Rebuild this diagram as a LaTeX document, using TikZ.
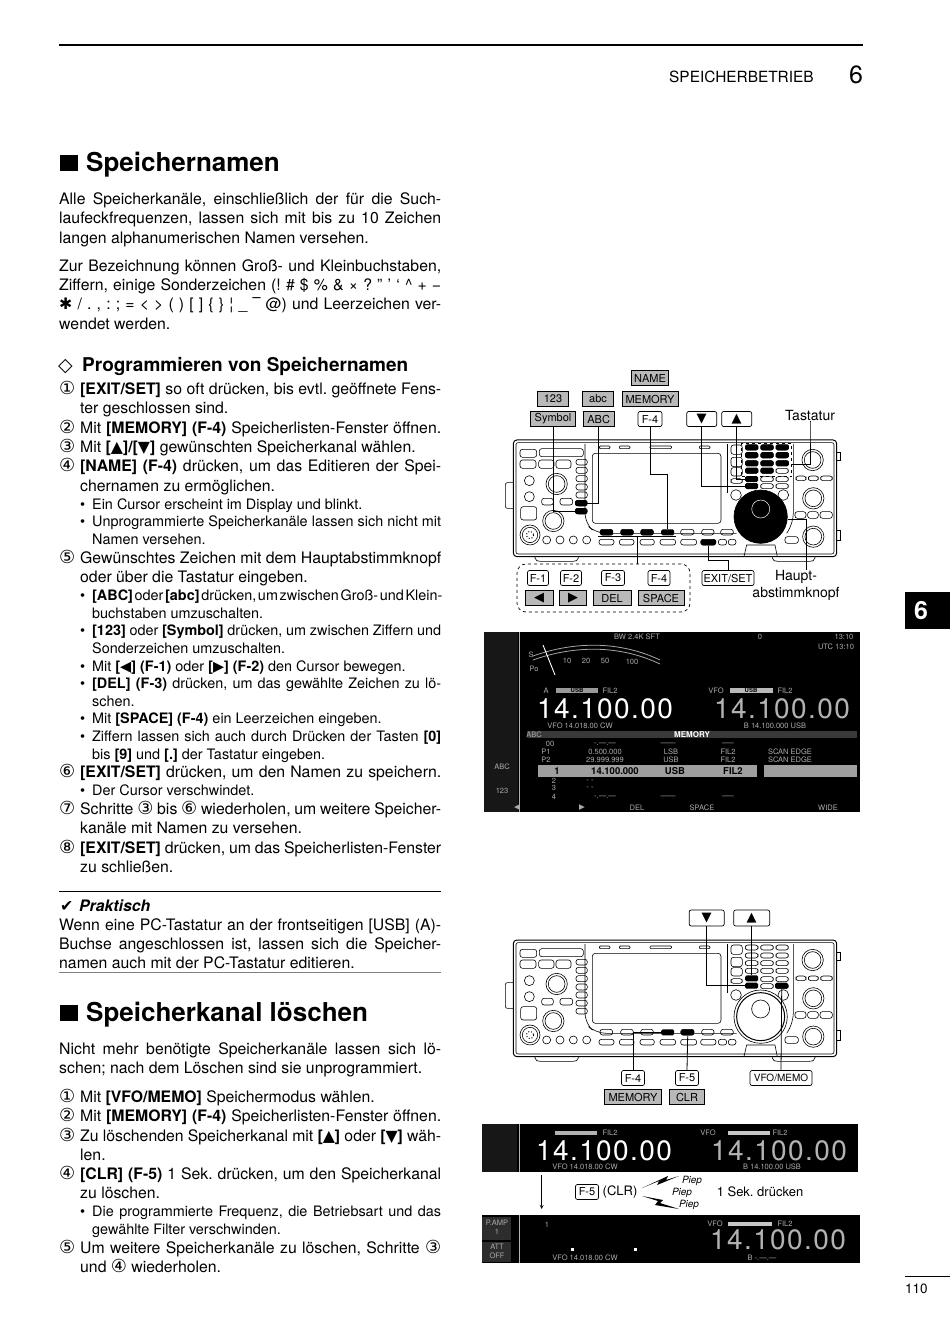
\documentclass[tikz,border=0pt]{standalone}
\usepackage{fontspec}
\setmainfont{TeX Gyre Heros}
\newfontfamily\symf{DejaVu Sans}
\frenchspacing
\newcommand{\bodyf}{\fontsize{15.8}{18}\selectfont}
\newcommand{\smallf}{\fontsize{14.4}{16}\selectfont}
\newcommand{\labf}{\fontsize{11}{12}\selectfont}
\newcommand{\fitsp}{\spaceskip=.278em plus .6em minus .16em\relax}
\newcommand{\up}{{\symf\char"25B2}}
\newcommand{\dn}{{\symf\char"25BC}}
\newcommand{\lf}{{\symf\char"25C0}}
\newcommand{\rt}{{\symf\char"25B6}}
\newcommand{\bigarr}[1]{{\fontsize{13}{13}\selectfont #1}}
\newcommand{\cn}[1]{{\symf\fontsize{18}{16}\selectfont\char\numexpr"245F+#1\relax}}
% text lines: j = justified up to the right margin
\newcommand{\jl}[3]{\node[body] (l#2) at (#1,#2) {\makebox[\dimexpr441pt-#1pt\relax][s]{\fitsp #3}};}
\newcommand{\tl}[3]{\node[body] (l#2) at (#1,#2) {#3};}
\newcommand{\nj}[3]{\node[body] (l#1) at (59,#1) {\makebox[382pt][s]{\fitsp\makebox[21pt][l]{\cn{#2}}#3}};}
\newcommand{\nl}[3]{\node[body] (l#1) at (59,#1) {\makebox[21pt][l]{\cn{#2}}#3};}
\newcommand{\bj}[2]{\node[small] (l#1) at (80,#1) {\makebox[361pt][s]{\fitsp\makebox[12pt][l]{•}#2}};}
\newcommand{\bl}[2]{\node[small] (l#1) at (80,#1) {\makebox[12pt][l]{•}#2};}
\newcommand{\cl}[2]{\node[small] (l#1) at (92,#1) {#2};}
\tikzset{
  body/.style={anchor=base west,inner sep=0pt,yshift=-1pt,font=\bodyf},
  small/.style={anchor=base west,inner sep=0pt,yshift=-1pt,font=\smallf},
  head/.style={anchor=base west,inner sep=0pt,font=\fontsize{26}{28}\selectfont\bfseries},
  graykey/.style={draw,fill=gray!55,minimum height=15pt,inner sep=0pt,line width=.7pt,font=\labf},
  whitekey/.style={draw,fill=white,rounded corners=2pt,minimum height=15pt,inner sep=0pt,line width=.7pt,font=\labf},
  blackkey/.style={fill=black,rounded corners=1.5pt,minimum width=13pt,minimum height=6pt,inner sep=0pt},
  conn/.style={line width=.8pt},
  scrtxt/.style={inner sep=0pt,text=gray!65,font=\fontsize{7.5}{8}\selectfont},
  freq/.style={inner sep=0pt,text height=20pt,text depth=0pt,font=\fontsize{28}{28}\selectfont\addfontfeature{LetterSpace=5}},
  radio/.pic={
    \begin{scope}[x=.3333pt,y=-.3333pt,line width=.6pt]
      % feet, handle and side tabs
      \draw[rounded corners=2pt] (135,590)--(135,600)--(145,604)--(255,604)--(265,600)--(265,590);
      \draw[rounded corners=2pt] (847,590)--(847,600)--(857,604)--(965,604)--(975,600)--(975,590);
      \draw[rounded corners=2pt] (70,368)--(46,368)--(46,445)--(70,445);
      \draw (1040,278)--(1052,278)--(1052,300)--(1040,300);
      \draw (1040,510)--(1052,510)--(1052,540)--(1040,540);
      \draw[line width=1pt,fill=white,rounded corners=3.5pt] (70,240) rectangle (1040,590);
      \draw[rounded corners=2pt] (78,248) rectangle (1032,582);
      % display and its frame
      \draw[rounded corners=10pt] (285,252)--(285,490)--(318,520)--(740,520);
      \draw[rounded corners=10pt] (712,252)--(712,400);
      \draw[rounded corners=10pt] (910,252)--(910,490)--(890,520);
      \draw[rounded corners=3pt] (307,280) rectangle (693,490);
      \foreach \a/\b in {328/360,388/420,480/545,628/660}
        \draw[rounded corners=1pt] (\a,258) rectangle (\b,266);
      % plain keys
      \foreach \a/\b/\c/\d in {90/268/140/292,148/266/280/290,90/300/138/325,146/300/192/325,198/300/243/325,
        155/415/190/435,210/415/248/435,92/440/140/480,
        258/298/292/315,258/322/292/340,258/347/292/365,258/372/292/390,258/396/292/414,
        258/421/292/438,258/445/292/462,
        572/508/612/525,635/508/672/525,692/508/730/525,
        327/538/372/555,388/538/432/555,450/538/493/555,510/538/557/555,572/538/620/555,632/538/678/555,685/538/710/555,715/538/738/555,
        330/508/368/525,392/508/430/525,452/508/490/525,
        723/255/757/283,723/292/757/320,723/323/757/348,723/356/757/370,
        812/255/850/270,858/255/895/270,812/279/850/294,858/279/895/294,812/302/850/317,858/302/895/317,812/325/850/340,858/325/895/340,
        812/350/850/365,858/350/895/365,812/371/850/386,858/371/895/386,
        766/255/804/270,766/279/804/294,766/302/804/317,766/325/804/340,
        918/348/948/362,955/348/985/362,992/348/1027/362,915/455/948/475,953/455/985/475,990/455/1027/475,885/530/925/550}
        \draw[rounded corners=2.5pt] (\a,\b) rectangle (\c,\d);
      % knobs
      \foreach \a/\b/\r in {118/362/15,118/410/15,738/405/16,880/405/16,170/540/12,210/540/12,250/540/12,290/540/12}
        \draw (\a,\b) circle (\r);
      \foreach \a/\b in {200/372,190/483,968/300,970/415,970/530} {
        \draw (\a,\b) circle (32);
        \draw (\a,\b) circle (25);
      }
      \draw (120,525) circle (30);
      \draw (120,525) circle (23);
      \draw[dotted,line width=1pt] (120,525) circle (11);
      % main dial
      \draw (762,590)--(770,555)--(855,555)--(862,590);
      \draw[fill=white] (812,470) circle (80);
      \draw[line width=1pt] (812,470) circle (72);
      \draw (812,447) circle (27);
    \end{scope}
  }
}
\begin{document}
\begin{tikzpicture}[x=1pt,y=-1pt]
\useasboundingbox (0,0) rectangle (950,1344);
% page head and foot
\draw[line width=2.4pt] (59,45)--(863,45);
\node[body,font=\fontsize{15.4}{16}\selectfont] (chap) at (669,81) {SPEICHERBETRIEB};
\node[body,font=\fontsize{25}{26}\selectfont] (chapno) at (849,82) {6};
\node[fill=black,minimum width=45pt,minimum height=37pt,inner sep=0pt] (tab) at (927.5,610.5) {};
\node[inner sep=0pt,text=white,font=\fontsize{25}{26}\selectfont\bfseries] (tabno) at (921,610.5) {6};
\draw[line width=.7pt] (905,1276)--(950,1276);
\node[small,font=\fontsize{13.5}{14}\selectfont] (pageno) at (905,1292) {110};
% left column
\node[fill=black,minimum width=18pt,minimum height=16pt,inner sep=0pt] (sqa) at (69,163) {};
\node[head] (heada) at (86,171) {Speichernamen};
\jl{59}{203}{Alle Speicherkanäle, einschließlich der für die Such-}
\jl{59}{222}{laufeckfrequenzen, lassen sich mit bis zu 10 Zeichen}
\tl{59}{242}{langen alphanumerischen Namen versehen.}
\jl{59}{270}{Zur Bezeichnung können Groß- und Kleinbuchstaben,}
\jl{59}{289}{Ziffern, einige Sonderzeichen (! \# \$ \% \& × ? " ' ` \textasciicircum{} + −}
\jl{59}{308}{{\symf\char"2731} / . , : ; = < > ( ) [ ] \{ \} ¦ \_ {\symf\char"203E} @) und Leerzeichen ver-}
\tl{59}{328}{wendet werden.}
\node[body,font=\fontsize{19}{19}\selectfont\bfseries] (dia) at (58,370) {{\symf\char"25C7}};
\node[body,font=\fontsize{19}{19}\selectfont\bfseries] (headb) at (82,370) {Programmieren von Speichernamen};
\nj{393}{1}{\textbf{[EXIT/SET]} so oft drücken, bis evtl. geöffnete Fens-}
\tl{80}{412}{ter geschlossen sind.}
\nj{432}{2}{Mit \textbf{[MEMORY] (F-4)} Speicherlisten-Fenster öffnen.}
\nl{451}{3}{Mit \textbf{[\up]/[\dn]} gewünschten Speicherkanal wählen.}
\nj{470}{4}{\textbf{[NAME] (F-4)} drücken, um das Editieren der Spei-}
\tl{80}{490}{chernamen zu ermöglichen.}
\bl{508}{Ein Cursor erscheint im Display und blinkt.}
\bj{525}{Unprogrammierte Speicherkanäle lassen sich nicht mit}
\cl{543}{Namen versehen.}
\nj{562}{5}{Gewünschtes Zeichen mit dem Hauptabstimmknopf}
\tl{80}{581}{oder über die Tastatur eingeben.}
\bj{599}{\textbf{[ABC]} oder \textbf{[abc]} drücken, um zwischen Groß- und Klein-}
\cl{617}{buchstaben umzuschalten.}
\bj{634}{\textbf{[123]} oder \textbf{[Symbol]} drücken, um zwischen Ziffern und}
\cl{652}{Sonderzeichen umzuschalten.}
\bl{670}{Mit \textbf{[\lf] (F-1)} oder \textbf{[\rt] (F-2)} den Cursor bewegen.}
\bj{687}{\textbf{[DEL] (F-3)} drücken, um das gewählte Zeichen zu lö-}
\cl{705}{schen.}
\bl{722}{Mit \textbf{[SPACE] (F-4)} ein Leerzeichen eingeben.}
\bj{740}{Ziffern lassen sich auch durch Drücken der Tasten \textbf{[0]}}
\cl{758}{bis \textbf{[9]} und \textbf{[.]} der Tastatur eingeben.}
\nj{776}{6}{\textbf{[EXIT/SET]} drücken, um den Namen zu speichern.}
\bl{794}{Der Cursor verschwindet.}
\nj{813}{7}{Schritte \cn{3} bis \cn{6} wiederholen, um weitere Speicher-}
\tl{80}{832}{kanäle mit Namen zu versehen.}
\nj{852}{8}{\textbf{[EXIT/SET]} drücken, um das Speicherlisten-Fenster}
\tl{80}{871}{zu schließen.}
\draw[line width=.8pt] (59,891)--(441,891);
\node[body] (tick) at (60,910) {{\symf\char"2714}};
\node[body,font=\bodyf\bfseries\itshape] (prak) at (79,910) {Praktisch};
\jl{59}{929}{Wenn eine PC-Tastatur an der frontseitigen [USB] (A)-}
\jl{59}{948}{Buchse angeschlossen ist, lassen sich die Speicher-}
\tl{59}{967}{namen auch mit der PC-Tastatur editieren.}
\draw[line width=.8pt,gray] (59,972)--(441,972);
\node[fill=black,minimum width=18pt,minimum height=16pt,inner sep=0pt] (sqb) at (69,1013) {};
\node[head] (headc) at (86,1021) {Speicherkanal löschen};
\jl{59}{1053}{Nicht mehr benötigte Speicherkanäle lassen sich lö-}
\tl{59}{1072}{schen; nach dem Löschen sind sie unprogrammiert.}
\nl{1101}{1}{Mit \textbf{[VFO/MEMO]} Speichermodus wählen.}
\nj{1120}{2}{Mit \textbf{[MEMORY] (F-4)} Speicherlisten-Fenster öffnen.}
\nj{1140}{3}{Zu löschenden Speicherkanal mit \textbf{[\up]} oder \textbf{[\dn]} wäh-}
\tl{80}{1159}{len.}
\nj{1178}{4}{\textbf{[CLR] (F-5)} 1 Sek. drücken, um den Speicherkanal}
\tl{80}{1197}{zu löschen.}
\bj{1215}{Die programmierte Frequenz, die Betriebsart und das}
\cl{1233}{gewählte Filter verschwinden.}
\nj{1252}{5}{Um weitere Speicherkanäle zu löschen, Schritte \cn{3}}
\node[body] (l1271) at (80,1271) {und \cn{4} wiederholen.};
% first radio
\pic at (490,360) {radio};
\node[draw,dashed,line width=.6pt,minimum width=50pt,minimum height=33.3pt,inner sep=0pt] (keypad) at (766.7,460) {};
\node[blackkey,minimum width=12pt] (symkey) at (581,511) {};
\node[blackkey,minimum width=12pt] (abckey) at (581,503) {};
\node[blackkey] (sfa) at (606.7,532.3) {};
\node[blackkey] (sfb) at (627,532.3) {};
\node[blackkey] (sfc) at (647,532.3) {};
\node[blackkey] (sfd) at (667.7,532.3) {};
\node[blackkey,minimum width=15pt] (exitkey) at (708.3,542.3) {};
\foreach \r/\y in {a/447.3,b/455,c/463.3}
  \foreach \c/\x in {a/751.7,b/767,c/782.3}
    \node[blackkey] (k\r\c) at (\x,\y) {};
\node[blackkey] (kda) at (751.7,470.7) {};
\node[blackkey] (kdb) at (767,470.7) {};
\node[blackkey] (upkey) at (751.7,479) {};
\node[blackkey] (dnkey) at (751.7,486) {};
\node[circle,fill=black,minimum size=53.4pt,inner sep=0pt] (dial) at (760.7,516.7) {};
\node[circle,draw=white,line width=.5pt,minimum size=18pt,inner sep=0pt] (dialin) at (760.7,509) {};
% labels of first radio
\node[graykey,minimum width=37pt] (name) at (650,378) {NAME};
\node[graykey,minimum width=31pt] (numk) at (553,399) {123};
\node[graykey,minimum width=31pt] (abcs) at (598,399) {abc};
\node[graykey,minimum width=56pt] (memk) at (650,399) {MEMORY};
\node[graykey,minimum width=45pt] (symk) at (553,419) {Symbol};
\node[graykey,minimum width=31pt] (abck) at (598.7,419) {ABC};
\node[whitekey,minimum width=24pt] (fd) at (650,419) {F-4};
\node[whitekey,minimum width=30pt] (dnk) at (701.7,419) {\bigarr{\dn}};
\node[whitekey,minimum width=30pt] (upk) at (736.7,419) {\bigarr{\up}};
\node[inner sep=0pt,font=\fontsize{14}{14}\selectfont] (tast) at (810,415.5) {Tastatur};
\draw[conn] (symk.south) |- (symkey.west);
\draw[conn] (abck.south) |- (abckey.east);
\draw[conn] (fd.south) -- ++(0,48) -| (sfd.north);
\draw[conn] (dnk.south) |- (dnkey.west);
\draw[conn] (upk.south) |- (upkey.west);
\coordinate (keyend) at (791.7,464);
\draw[conn] (tast.south) -- ++(0,2) |- (keyend);
\coordinate (softl) at (598.3,536.7);
\coordinate (softr) at (676,536.7);
\coordinate (softm) at (637.3,536.7);
\draw[conn] (softl) -- (softr);
\node[draw,dashed,rounded corners=9pt,line width=.7pt,minimum width=173pt,minimum height=48pt,inner sep=0pt] (fbox) at (603.5,588) {};
\draw[conn] (softm) -- (softm |- fbox.north);
\node[whitekey,minimum width=21pt] (fa) at (538,578) {F-1};
\node[whitekey,minimum width=21pt] (fb) at (571,578) {F-2};
\node[whitekey,minimum width=23pt] (fc) at (613,578) {F-3};
\node[whitekey,minimum width=22pt] (fe) at (659,578) {F-4};
\node[graykey,minimum width=28pt] (lk) at (539,598) {\bigarr{\lf}};
\node[graykey,minimum width=27pt] (rk) at (573,598) {\bigarr{\rt}};
\node[graykey,minimum width=38pt] (delk) at (612,598) {DEL};
\node[graykey,minimum width=46pt] (spk) at (661,598) {SPACE};
\node[whitekey,minimum width=52pt] (exits) at (728,578) {EXIT/SET};
\draw[conn] (exitkey.south) -- ++(0,15) -| (exits.north);
\node[inner sep=0pt,align=center,font=\fontsize{14}{17}\selectfont] (haupt) at (796,585.5) {Haupt-\\abstimmknopf};
\coordinate (hauptend) at (806.7,570);
\draw[conn] (dial.-5) -| (hauptend);
% first screen
\fill[black] (484,632) rectangle (860,812);
\fill[gray!18!black] (484,632) rectangle (518,812);
\draw[gray!60,line width=.8pt] (519,632)--(519,812);
\draw[gray!70,line width=.8pt] (533,660) .. controls (575,645) and (620,645) .. (660,664);
\draw[gray!70,line width=.8pt] (533,656) .. controls (575,641) and (620,641) .. (660,660);
\draw[white,line width=.9pt] (543,645)--(555,675);
\foreach \n/\x/\y/\s in {ma/531/655/S,mb/534/669/Po,mc/567/661/10,md/586/661/20,me/605/661/50,mf/632/662/100,
  ta/637/637/BW 2.4K SFT,tb/760/637/0,tc/844/637/13:10,td/836/647/UTC 13:10,
  ua/546/691/A,ub/610/691/FIL2,uc/716/691/VFO,ud/785/691/FIL2,
  va/580/725.5/VFO 14.018.00 CW,vb/775/725.5/B 14.100.000 USB,
  ra/550/744/00,rb/605/744/-.---.---,rc/668/744/------,rd/728/744/-----,
  re/546/752/P1,rf/605/752/0.500.000,rg/671/752/LSB,rh/728/752/FIL2,ri/790/752/SCAN EDGE,
  rj/546/760/P2,rk/605/760/29.999.999,rl/671/760/USB,rm/728/760/FIL2,rn/790/760/SCAN EDGE,
  ro/554/781/2,rp/590/781/- -,rq/554/788/3,rr/590/788/- -,rs/554/797/4,rt/605/797/-.---.---,ru/668/797/------,rv/728/797/-----,
  la/502/767/ABC,lb/502/791/123,
  fa/517/808/\lf,fb/582/808/\rt,fc/637/808/DEL,fd/702/808/SPACE,fe/828/808/WIDE}
  \node[scrtxt] (s\n) at (\x,\y) {\s};
\fill[gray!80] (556,688) rectangle (598,693);
\fill[gray!55] (730,688) rectangle (773,693);
\node[scrtxt,text=black,font=\fontsize{6}{6}\selectfont\bfseries] (usba) at (577,690.5) {USB};
\node[scrtxt,text=black,font=\fontsize{6}{6}\selectfont\bfseries] (usbb) at (751,690.5) {USB};
\node[freq,text=white] (freqa) at (605,708) {14.100.00};
\node[freq,text=gray!60] (freqb) at (782,708) {14.100.00};
\fill[gray!45!black] (527,731) rectangle (857,738);
\node[scrtxt,text=white,font=\fontsize{8}{8}\selectfont\bfseries] (memt) at (692,734.5) {MEMORY};
\node[scrtxt] (abct) at (534,734.5) {ABC};
\fill[gray!75] (538,765) rectangle (757,777);
\fill[gray!75] (764,765) rectangle (857,777);
\foreach \n/\x/\s in {a/557/1,b/615/14.100.000,c/675/USB,d/733/FIL2}
  \node[scrtxt,text=black,font=\fontsize{9.5}{10}\selectfont\bfseries] (sel\n) at (\x,771) {\s};
% second radio
\pic at (490,860) {radio};
\node[blackkey] (dntwo) at (751.7,985.7) {};
\node[blackkey] (uptwo) at (751.7,978.3) {};
\node[blackkey] (vfokey) at (781.7,985.7) {};
\node[blackkey] (fdkey) at (667.7,1032.3) {};
\node[blackkey] (fekey) at (687.7,1032.3) {};
\node[whitekey,minimum width=35pt,minimum height=16pt] (dnb) at (706.7,918) {\bigarr{\dn}};
\node[whitekey,minimum width=36pt,minimum height=16pt] (upb) at (751.7,918) {\bigarr{\up}};
\node[whitekey,minimum width=23pt] (ffour) at (633,1078) {F-4};
\node[whitekey,minimum width=23pt] (ffive) at (687,1078) {F-5};
\node[whitekey,minimum width=62pt,font=\fontsize{10}{11}\selectfont] (vfo) at (781,1078) {VFO/MEMO};
\node[graykey,minimum width=57pt] (memb) at (633,1097) {MEMORY};
\node[graykey,minimum width=35pt] (clrb) at (687,1097) {CLR};
\draw[conn] (dnb.south) |- (dntwo.west);
\draw[conn] (upb.south) -- (uptwo.north);
\draw[conn] (ffour.north) |- (fdkey.west);
\draw[conn] (ffive.north) -- (fekey.south);
\draw[conn] (vfo.north) -- (vfokey.south);
% second and third screen
\fill[black] (482,1124) rectangle (858,1172);
\fill[gray!18!black] (482,1124) rectangle (517,1172);
\draw[gray!60,line width=.8pt] (519,1124)--(519,1172);
\fill[gray!60] (555,1131) rectangle (597,1135);
\fill[gray!45] (728,1131) rectangle (770,1135);
\node[freq,text=white] (freqc) at (604,1150) {14.100.00};
\node[freq,text=gray!60] (freqd) at (779,1150) {14.100.00};
\foreach \n/\x/\y/\s in {a/610/1133/FIL2,b/708/1133/VFO,c/780/1133/FIL2,d/585/1167/VFO 14.018.00 CW,e/772/1167/B 14.100.00 USB}
  \node[scrtxt] (sb\n) at (\x,\y) {\s};
\fill[black] (482,1215) rectangle (860,1263);
\fill[gray!35!black] (482,1217) rectangle (511,1240);
\fill[gray!35!black] (482,1242) rectangle (511,1262);
\draw[gray!60,line width=.8pt] (519,1215)--(519,1263);
\fill[gray!45] (728,1222) rectangle (772,1226);
\fill[white] (570.5,1247.5) rectangle (573.5,1250.5);
\fill[white] (633.5,1247.5) rectangle (636.5,1250.5);
\node[freq,text=gray!60] (freqe) at (778,1239) {14.100.00};
\foreach \n/\x/\y/\s in {a/497/1223/P.AMP,b/497/1232/1,c/497/1247/ATT,d/497/1256/OFF,e/547/1225/1,
  f/715/1224/VFO,g/785/1224/FIL2,h/585/1258/VFO 14.018.00 CW,i/762/1258/B -.---.---}
  \node[scrtxt] (sc\n) at (\x,\y) {\s};
\coordinate (arrs) at (541.7,1175);
\coordinate (arre) at (541.7,1209);
\draw[->,>=stealth,line width=.8pt] (arrs) -- (arre);
\node[whitekey,minimum width=23pt] (ffn) at (587,1192) {F-5};
\node[inner sep=0pt,font=\fontsize{13}{14}\selectfont] (clrt) at (620,1192) {(CLR)};
\fill (642,1188)--(668,1176)--(666,1180)--(679,1176)--(657,1185)--(659,1181)--cycle;
\fill (642,1196)--(663,1200)--(660,1203)--(679,1209)--(655,1205)--(658,1201)--cycle;
\node[inner sep=0pt,font=\fontsize{10}{11}\selectfont\itshape] (pa) at (692,1181) {Piep};
\node[inner sep=0pt,font=\fontsize{10}{11}\selectfont\itshape] (pb) at (682,1193) {Piep};
\node[inner sep=0pt,font=\fontsize{10}{11}\selectfont\itshape] (pc) at (689,1205) {Piep};
\node[inner sep=0pt,font=\fontsize{13}{14}\selectfont] (sek) at (760,1192) {1 Sek. drücken};
\end{tikzpicture}
\end{document}
